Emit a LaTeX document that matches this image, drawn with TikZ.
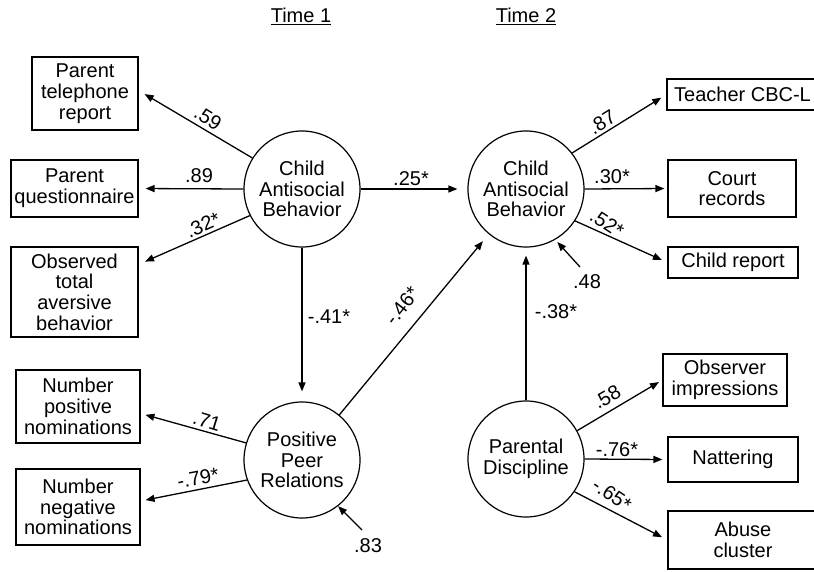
\documentclass[tikz,border=0pt]{standalone}
\usepackage{fontspec}
\setmainfont{Liberation Sans}
\usetikzlibrary{arrows.meta,calc}
\begin{document}
\begin{tikzpicture}[x=1pt,y=-1pt,
  every node/.style={font=\fontsize{20}{20.7}\selectfont},
  box/.style={draw,line width=1.2pt,rectangle,inner sep=0pt,align=center},
  lat/.style={draw,line width=1.2pt,circle,minimum size=116pt,inner sep=0pt,align=center},
  arr/.style={line width=1.3pt,-{Triangle[length=9pt,width=7pt]}},
  lbl/.style={inner sep=0pt},
  hdr/.style={inner sep=0pt}]
\useasboundingbox (0,0) rectangle (814,571);
\clip (0,0) rectangle (814,571);

% headers
\node[hdr] (t1) at (301,16) {\underline{Time 1}};
\node[hdr] (t2) at (526,16) {\underline{Time 2}};

% latent variables
\node[lat] (c1) at (302,189) {Child\\Antisocial\\Behavior};
\node[lat] (c2) at (526,189) {Child\\Antisocial\\Behavior};
\node[lat] (ppr) at (302,460) {Positive\\Peer\\Relations};
\node[lat] (pd) at (526,459) {Parental\\Discipline};

% indicator boxes
\node[box,minimum width=106pt,minimum height=73pt] (tel) at (85,93.5) {Parent\\telephone\\report};
\node[box,minimum width=127pt,minimum height=57pt] (q) at (74.5,188.5) {Parent\\questionnaire};
\node[box,minimum width=127pt,minimum height=90pt] (obs) at (74.5,292) {Observed\\total\\aversive\\behavior};
\node[box,minimum width=124pt,minimum height=73pt] (pos) at (78,406.5) {Number\\positive\\nominations};
\node[box,minimum width=124pt,minimum height=76pt] (neg) at (78,507) {Number\\negative\\nominations};
\node[box,minimum width=151pt,minimum height=31pt] (teach) at (742.5,94.5) {Teacher CBC-L};
\node[box,minimum width=128pt,minimum height=57pt] (court) at (732,188.5) {Court\\records};
\node[box,minimum width=130pt,minimum height=31pt] (child) at (733,262.5) {Child report};
\node[box,minimum width=124pt,minimum height=52pt] (oimp) at (725,380) {Observer\\impressions};
\node[box,minimum width=130pt,minimum height=45pt] (natt) at (733,459.5) {Nattering};
\node[box,minimum width=150pt,minimum height=58pt] (abuse) at (743,540) {Abuse\\cluster};

% residual tails
\coordinate (r83) at (362,530);
\coordinate (r48) at (580,267);

% connectors
\draw[arr,shorten >=7pt] (c1.148) -- ($(tel.east)+(0,-3)$);
\draw[arr,shorten >=7pt] (c1.west) -- (q.east);
\draw[arr,shorten >=7pt] (c1.207) -- ($(obs.north east)+(0,18)$);
\draw[arr,shorten >=10pt] (c1.east) -- (c2.west);
\draw[arr,shorten >=10pt] (c1.south) -- (ppr.north);
\draw[arr,shorten >=9pt] (ppr) -- (c2);
\draw[arr,shorten >=5pt] (ppr.163) -- ($(pos.east)+(0,7)$);
\draw[arr,shorten >=5pt] (ppr.200) -- ($(neg.east)+(0,-6)$);
\draw[arr] (r83) -- (ppr.-52);

\draw[arr,shorten >=6pt] (c2.38) -- (teach.west);
\draw[arr,shorten >=3pt] (c2.east) -- (court.west);
\draw[arr,shorten >=6pt] (c2.-33) -- (child.west);
\draw[arr,shorten >=3pt] (r48) -- (c2.-60);
\draw[arr,shorten >=8pt] (pd.north) -- (c2.south);

\draw[arr,shorten >=4pt] (pd.29) -- (oimp.west);
\draw[arr,shorten >=5pt] (pd.east) -- (natt.west);
\draw[arr,shorten >=6pt] (pd.-34) -- (abuse.west);

% coefficient labels
\node[lbl,rotate=-32] (l59) at (208,118) {.59};
\node[lbl] (l89) at (199,176) {.89};
\node[lbl,rotate=24] (l32) at (203,225) {.32*};
\node[lbl] (l25) at (411,179) {.25*};
\node[lbl] (l41) at (329,317) {-.41*};
\node[lbl,rotate=52] (l46) at (402,306) {-.46*};
\node[lbl,rotate=-17] (l71) at (207,421) {.71};
\node[lbl,rotate=11] (l79) at (198,478) {-.79*};
\node[lbl] (l83) at (368,546) {.83};
\node[lbl,rotate=32] (l87) at (602,122) {.87};
\node[lbl] (l30) at (612,177) {.30*};
\node[lbl,rotate=-33] (l52) at (607,223) {.52*};
\node[lbl] (l48) at (587,282) {.48};
\node[lbl] (l38) at (556,312) {-.38*};
\node[lbl,rotate=30] (l58) at (607,397) {.58};
\node[lbl] (l76) at (617,450) {-.76*};
\node[lbl,rotate=-34] (l65) at (612,495) {-.65*};
\end{tikzpicture}
\end{document}
